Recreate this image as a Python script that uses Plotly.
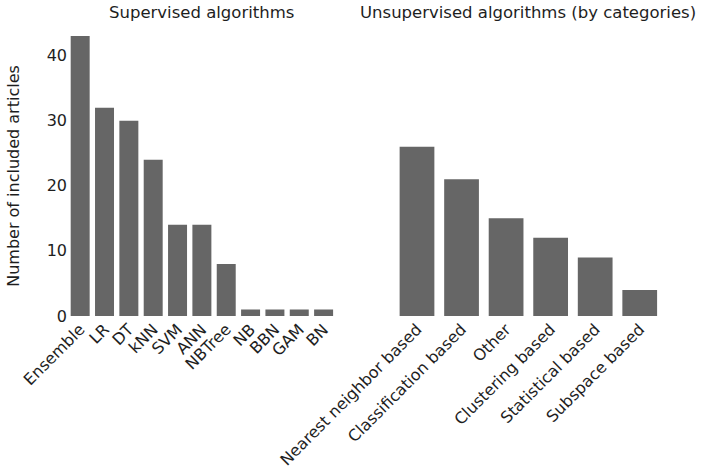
import plotly.graph_objects as go

sup_labels = ["Ensemble", "LR", "DT", "kNN", "SVM", "ANN", "NBTree", "NB", "BBN", "GAM", "BN"]
sup_values = [43, 32, 30, 24, 14, 14, 8, 1, 1, 1, 1]
unsup_labels = ["Nearest neighbor based", "Classification based", "Other",
                "Clustering based", "Statistical based", "Subspace based"]
unsup_values = [26, 21, 15, 12, 9, 4]
y_ticks = [0, 10, 20, 30, 40]

FONT = "DejaVu Sans"
TXT = "#1e1e1e"
BAR = "#666666"

fig = go.Figure()
fig.add_trace(go.Bar(x=sup_labels, y=sup_values, marker_color=BAR,
                     marker_line_width=0, xaxis="x", yaxis="y", showlegend=False))
fig.add_trace(go.Bar(x=unsup_labels, y=unsup_values, marker_color=BAR,
                     marker_line_width=0, xaxis="x2", yaxis="y2", showlegend=False))

W, H = 703, 469
ml, mr, mt, mb = 68, 40.5, 35.5, 153
pw = W - ml - mr
ph = H - mt - mb
d1 = [0, 268 / pw]
d2 = [(395 - ml) / pw, 1]
ytitle = 1 + (mt - 12) / ph

axis_common = dict(showgrid=False, zeroline=False, showline=False, ticks="",
                   tickangle=-45, tickfont=dict(size=16, color=TXT, family=FONT))
fig.update_layout(
    width=W, height=H,
    margin=dict(l=ml, r=mr, t=mt, b=mb, autoexpand=False),
    paper_bgcolor="white", plot_bgcolor="white",
    font=dict(family=FONT, color=TXT, size=16),
    bargap=0.22,
    xaxis=dict(domain=d1, anchor="y", **axis_common),
    xaxis2=dict(domain=d2, anchor="y2", **axis_common),
    yaxis=dict(range=[0, 43], tickvals=y_ticks, showgrid=False, zeroline=False,
               showline=False, ticks="", tickfont=dict(size=16, color=TXT, family=FONT),
               title=dict(text="Number of included articles", font=dict(size=16, color=TXT),
                          standoff=23)),
    yaxis2=dict(range=[0, 43], anchor="x2", showticklabels=False, showgrid=False,
                zeroline=False, showline=False, ticks=""),
    annotations=[
        dict(text="Supervised algorithms", x=(d1[0] + d1[1]) / 2, y=ytitle,
             xanchor="center", yanchor="middle",
             xref="paper", yref="paper", showarrow=False, font=dict(size=16.5, color=TXT)),
        dict(text="Unsupervised algorithms (by categories)", x=(d2[0] + d2[1]) / 2, y=ytitle,
             xanchor="center", yanchor="middle",
             xref="paper", yref="paper", showarrow=False, font=dict(size=16.5, color=TXT)),
    ],
)
fig.write_html("out.html")
